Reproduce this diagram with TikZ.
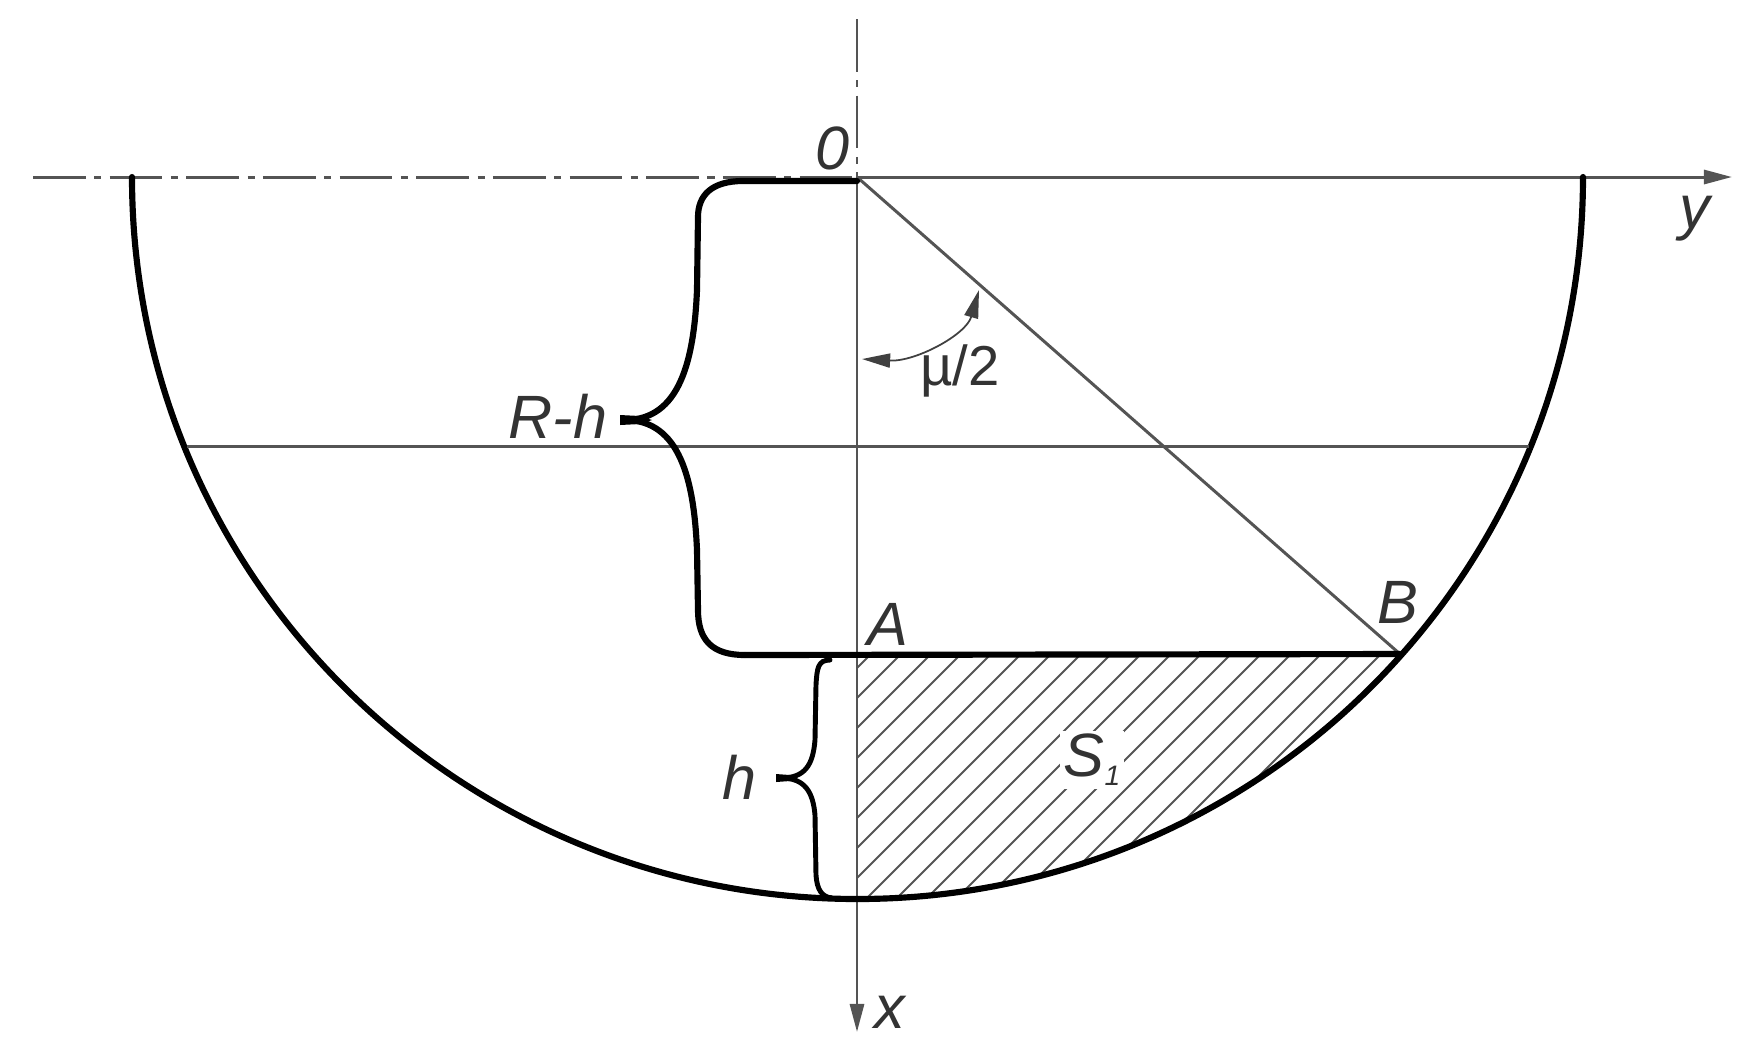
\documentclass[tikz,border=0pt]{standalone}
\usepackage{fontspec}
\setmainfont{Liberation Sans}
\usetikzlibrary{calc,arrows,arrows.meta,positioning}
\definecolor{thinline}{gray}{0.33}
\tikzset{
  thinaxis/.style={color=thinline, line width=0.85pt},
  boldline/.style={color=black, line width=1.75pt, line cap=round},
  hatchline/.style={color=thinline, line width=0.55pt},
  lbl/.style={inner sep=1pt, color=black!80, font=\fontsize{17.4}{20}\selectfont\itshape},
  centerline/.style={color=thinline, line width=0.85pt, dash pattern=on 15pt off 2.4pt on 2pt off 2.4pt},
  axistip/.style={-{Stealth[length=8pt,width=4pt,inset=0pt]}},
  angletip/.style={{Stealth[length=8pt,width=4pt,inset=0pt]}-{Stealth[length=8pt,width=4pt,inset=0pt]}}
}
\begin{document}
\begin{tikzpicture}[x=0.01cm, y=-0.01cm]
\useasboundingbox (0,0) rectangle (1750,1056);
% key points
\coordinate (O) at (857,177);
\coordinate (A) at (857,654);
\coordinate (B) at (1400,654);
\coordinate (L) at (132,177);
\coordinate (R) at (1583,177);
\coordinate (D) at (857,899);
\coordinate (yend) at (1732,177);
\coordinate (xend) at (857,1032);
\coordinate (xtop) at (857,19);
\coordinate (ystart) at (33,177);
\coordinate (ML) at (187,446);
\coordinate (MR) at (1529,446);
% hatching
\begin{scope}
\clip (D) arc[start angle=90, end angle=41.4, x radius=725.5, y radius=722] -- (A) -- cycle;
\foreach \k in {-1,...,30}
  \draw[hatchline] (857,668+30*\k) -- ++(600,-600);
\end{scope}
% axes
\draw[centerline] (ystart) -- (O);
\draw[centerline] (xtop) -- (O);
\draw[axistip, thinaxis] (O) -- (yend);
\draw[axistip, thinaxis] (O) -- (xend);
% bowl
\draw[boldline] (L) arc[start angle=180, end angle=0, x radius=725.5, y radius=722];
\draw[thinaxis] (ML) -- (MR);
\draw[thinaxis] (O) -- (B);
\draw[boldline] (745,655) -- (B);
% braces
\draw[boldline] (O) ++(0,4) -- (743,181) .. controls (712,181) and (698,195) .. (698,217)
  -- (697,290) .. controls (694,360) and (680,420) .. (625,420)
  .. controls (680,420) and (694,480) .. (697,550)
  -- (698,610) .. controls (698,640) and (712,655) .. (745,655);
\fill (620,415) -- (640,416) -- (652,420) -- (640,424) -- (620,425) -- cycle;
\draw[boldline, line width=1.4pt] (830,660) .. controls (818,660) and (817,668) .. (816,685)
  -- (815,740) .. controls (813,765) and (805,778) .. (781,778)
  .. controls (805,778) and (813,792) .. (815,815)
  -- (816,875) .. controls (817,890) and (822,897) .. (832,898);
\fill (776,774) -- (790,775) -- (798,778) -- (790,781) -- (776,782) -- cycle;
% angle mark
\draw[angletip, color=black!75, line width=0.5pt] (862,359) .. controls (915,362) and (966,335) .. (979,290);
% labels
\node[lbl] (zero) at (833,148) {0};
\node[lbl] (ylab) at (1695,219) {y};
\node[lbl] (xlab) at (890,1012) {x};
\node[lbl] (Alab) at (888,624) {A};
\node[lbl] (Blab) at (1398,602) {B};
\node[lbl] (Rh) at (558,416) {R-h};
\node[lbl] (hlab) at (740,777) {h};
\node[lbl, fill=white] (Sone) at (1092,760) {S\raisebox{-2.5pt}{\fontsize{8}{8}\selectfont 1}};
\node[lbl, font=\fontsize{16}{20}\selectfont] (mu) at (960,371) {µ/2};
\end{tikzpicture}
\end{document}
